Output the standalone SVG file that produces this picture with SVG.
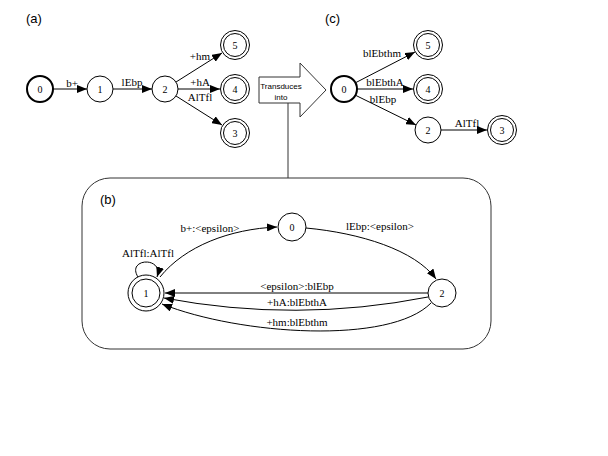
<svg xmlns="http://www.w3.org/2000/svg" width="608" height="456" viewBox="0 0 608 456">
<style>
.n{fill:#fff;stroke:#000;stroke-width:1}
.s{fill:#fff;stroke:#000;stroke-width:2}
.d{fill:none;stroke:#000;stroke-width:1}
.t{font-family:"Liberation Serif",serif;font-size:11px;text-anchor:middle;fill:#000}
.v{font-family:"Liberation Serif",serif;font-size:10px;text-anchor:middle;fill:#000}
.p{font-family:"Liberation Sans",Arial,sans-serif;font-size:13px;fill:#000}
.e{fill:none;stroke:#000;stroke-width:1;marker-end:url(#ah)}
</style>
<defs>
<marker id="ah" markerWidth="10" markerHeight="8" refX="10" refY="4" orient="auto" markerUnits="userSpaceOnUse">
<path d="M0,0 L10,4 L0,8 z" fill="#000"/>
</marker>
</defs>
<rect width="608" height="456" fill="#fff"/>
<text class="p" x="26" y="23">(a)</text>
<text class="p" x="325" y="23">(c)</text>
<text class="p" x="100" y="204">(b)</text>

<g id="connectors">
<!-- (a) -->
<line class="e" x1="53" y1="89" x2="87" y2="89"/>
<line class="e" x1="113" y1="89" x2="152" y2="89"/>
<line class="e" x1="176" y1="82" x2="222" y2="53"/>
<line class="e" x1="178" y1="89" x2="220" y2="89"/>
<line class="e" x1="176" y1="96" x2="222" y2="125"/>
<!-- (c) -->
<line class="e" x1="355" y1="83" x2="415" y2="52"/>
<line class="e" x1="357" y1="89" x2="413" y2="89"/>
<line class="e" x1="355" y1="95" x2="416" y2="125"/>
<line class="e" x1="441" y1="130" x2="487" y2="130"/>
<!-- (b) -->
<path class="e" d="M160,277 C185,246 230,229 277,227"/>
<path class="e" d="M138,277 C126,258 164,256 157,277"/>
<path class="e" d="M306,228 C360,233 415,250 436,279"/>
<line class="e" x1="428" y1="293" x2="165" y2="293"/>
<path class="e" d="M428,297 Q296,323 164,298"/>
<path class="e" d="M431,303 C390,345 240,335 162,304"/>
<line x1="288" y1="103" x2="288" y2="178" stroke="#333" stroke-width="1"/>
</g>

<g id="labels">
<text class="t" x="72" y="87">b+</text>
<text class="t" x="132" y="86">lEbp</text>
<text class="t" x="200" y="60">+hm</text>
<text class="t" x="200" y="86">+hA</text>
<text class="t" x="200" y="101">AlTfl</text>
<text class="t" x="382" y="57">blEbthm</text>
<text class="t" x="385" y="86">blEbthA</text>
<text class="t" x="383" y="103">blEbp</text>
<text class="t" x="467" y="127">AlTfl</text>
<text class="t" x="210" y="232">b+:&lt;epsilon&gt;</text>
<text class="t" x="148" y="257">AlTfl:AlTfl</text>
<text class="t" x="380" y="230">lEbp:&lt;epsilon&gt;</text>
<text class="t" x="297" y="290">&lt;epsilon&gt;:blEbp</text>
<text class="t" x="297" y="306">+hA:blEbthA</text>
<text class="t" x="297" y="326">+hm:blEbthm</text>
</g>

<g id="transduces">
<polygon points="259,77 300,77 300,63 326,90 300,117 300,103 259,103" fill="#fff" stroke="#333" stroke-width="1"/>
<text x="281" y="89" font-family="Liberation Sans,Arial,sans-serif" font-size="8" text-anchor="middle">Transduces</text>
<text x="281" y="100" font-family="Liberation Sans,Arial,sans-serif" font-size="8" text-anchor="middle">into</text>
</g>

<g id="boxB">
<rect x="82" y="178" width="409" height="171" rx="28" fill="none" stroke="#333" stroke-width="1"/>
</g>

<g id="a0"><circle class="s" cx="40" cy="89" r="13"/><text class="v" x="40" y="93">0</text></g>
<g id="a1"><circle class="n" cx="100" cy="89" r="13"/><text class="v" x="100" y="93">1</text></g>
<g id="a2"><circle class="n" cx="165" cy="89" r="13"/><text class="v" x="165" y="93">2</text></g>
<g id="a5"><circle class="n" cx="235" cy="45" r="14.5"/><circle class="d" cx="235" cy="45" r="11.5"/><text class="v" x="235" y="49">5</text></g>
<g id="a4"><circle class="n" cx="235" cy="89" r="14.5"/><circle class="d" cx="235" cy="89" r="11.5"/><text class="v" x="235" y="93">4</text></g>
<g id="a3"><circle class="n" cx="235" cy="133" r="14.5"/><circle class="d" cx="235" cy="133" r="11.5"/><text class="v" x="235" y="137">3</text></g>

<g id="c0"><circle class="s" cx="344" cy="89" r="13"/><text class="v" x="344" y="93">0</text></g>
<g id="c5"><circle class="n" cx="428" cy="45" r="14.5"/><circle class="d" cx="428" cy="45" r="11.5"/><text class="v" x="428" y="49">5</text></g>
<g id="c4"><circle class="n" cx="428" cy="89" r="14.5"/><circle class="d" cx="428" cy="89" r="11.5"/><text class="v" x="428" y="93">4</text></g>
<g id="c2"><circle class="n" cx="428" cy="130" r="13"/><text class="v" x="428" y="134">2</text></g>
<g id="c3"><circle class="n" cx="502" cy="130" r="14.5"/><circle class="d" cx="502" cy="130" r="11.5"/><text class="v" x="502" y="134">3</text></g>

<g id="b0"><circle class="n" cx="292" cy="227" r="14"/><text class="v" x="292" y="231">0</text></g>
<g id="b1"><circle class="n" cx="146" cy="293" r="18" stroke-width="1.5"/><circle class="d" cx="146" cy="293" r="14" stroke-width="1.5"/><text class="v" x="146" y="297">1</text></g>
<g id="b2"><circle class="n" cx="442" cy="293" r="14"/><text class="v" x="442" y="297">2</text></g>
</svg>
